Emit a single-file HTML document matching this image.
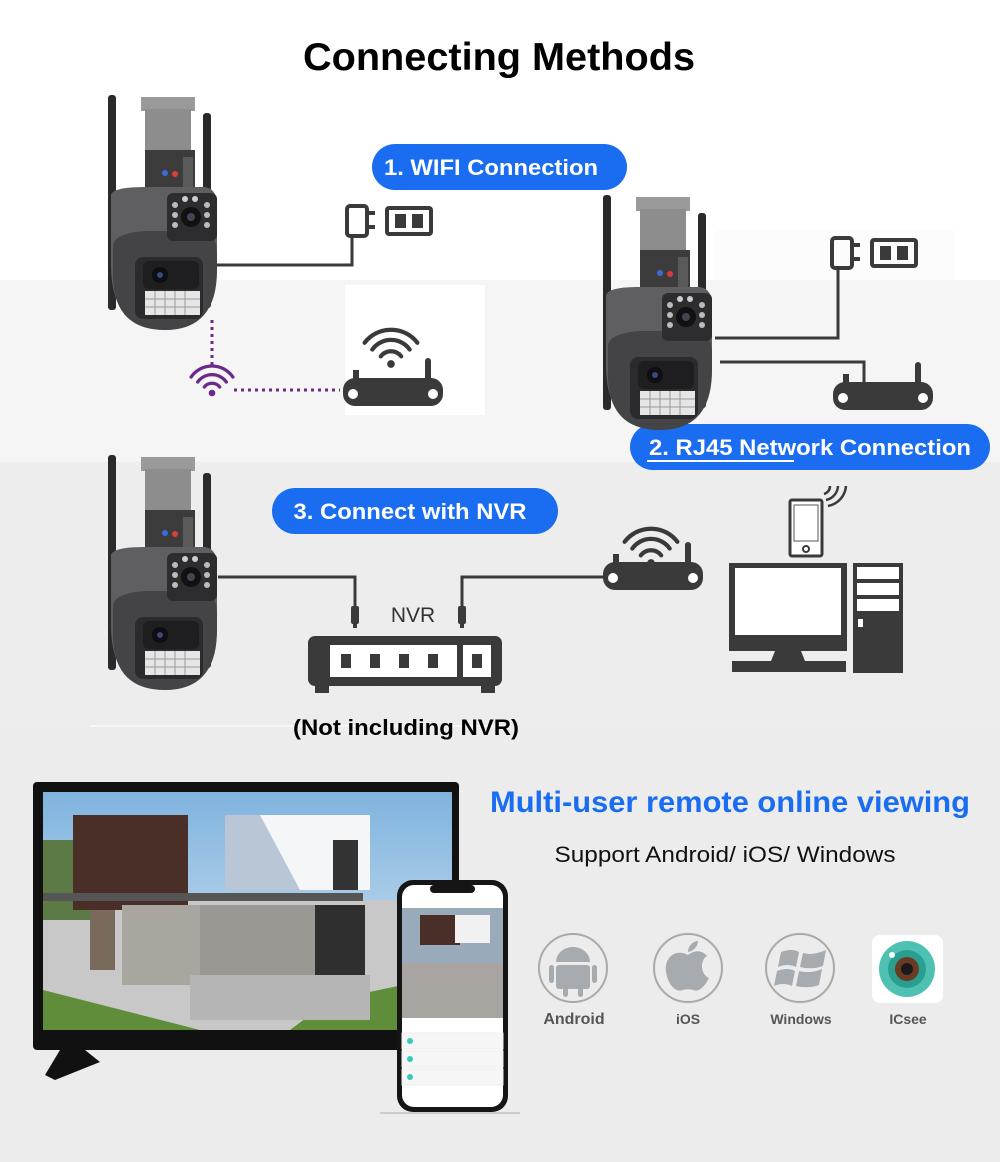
<!DOCTYPE html>
<html><head><meta charset="utf-8"><style>
html,body{margin:0;padding:0;background:#fff}
svg{display:block}
text{font-family:"Liberation Sans",Arial,sans-serif}
</style></head><body>
<svg width="1000" height="1162" viewBox="0 0 1000 1162" xmlns="http://www.w3.org/2000/svg">
<defs>
<linearGradient id="bg2" x1="0" y1="0" x2="0" y2="1"><stop offset="0" stop-color="#ededed"/><stop offset="1" stop-color="#ececec"/></linearGradient>
<linearGradient id="sky" x1="0" y1="0" x2="0" y2="1"><stop offset="0" stop-color="#7fb3de"/><stop offset="1" stop-color="#d9e8f3"/></linearGradient>
<g id="cam">
  <rect x="3" y="0" width="8" height="215" rx="3" fill="#2a2a2a"/>
  <rect x="98" y="18" width="8" height="195" rx="3" fill="#2a2a2a"/>
  <rect x="36" y="2" width="54" height="14" fill="#9a9a9a"/>
  <rect x="40" y="14" width="46" height="46" fill="#8d8d8d"/>
  <rect x="40" y="55" width="50" height="42" fill="#3c3c3c"/>
  <rect x="78" y="62" width="10" height="30" fill="#5a5a5a"/>
  <circle cx="60" cy="78" r="3" fill="#3c6ad8"/><circle cx="70" cy="79" r="3" fill="#d83c3c"/>
  <path d="M6 100 Q8 92 40 92 L100 92 Q112 94 112 110 L112 170 Q112 235 60 235 Q6 235 6 170 Z" fill="#5f5f62"/>
  <path d="M8 150 Q10 138 40 136 L100 136 Q112 140 112 160 L112 175 Q112 235 60 235 Q6 235 8 175 Z" fill="#444447"/>
  <rect x="62" y="98" width="50" height="48" rx="6" fill="#2d2d30"/>
  <circle cx="86" cy="122" r="10" fill="#111"/><circle cx="86" cy="122" r="4" fill="#445"/>
  <circle cx="70" cy="110" r="3" fill="#bbb"/><circle cx="70" cy="120" r="3" fill="#bbb"/><circle cx="70" cy="130" r="3" fill="#bbb"/>
  <circle cx="102" cy="110" r="3" fill="#bbb"/><circle cx="102" cy="120" r="3" fill="#bbb"/><circle cx="102" cy="130" r="3" fill="#bbb"/>
  <circle cx="80" cy="104" r="3" fill="#ccc"/><circle cx="90" cy="104" r="3" fill="#ccc"/>
  <rect x="30" y="162" width="68" height="62" rx="8" fill="#2b2b2e"/>
  <rect x="38" y="166" width="56" height="28" rx="6" fill="#1e1e20"/>
  <circle cx="55" cy="180" r="8" fill="#0d0d12"/><circle cx="55" cy="180" r="3" fill="#3a4a7a"/>
  <rect x="40" y="196" width="55" height="24" fill="#e6e6e6"/>
  <path d="M40 204h55M40 212h55M50 196v24M60 196v24M70 196v24M80 196v24" stroke="#999" stroke-width="1"/>
</g>
<g id="router">
  <rect x="0" y="38" width="100" height="28" rx="12" fill="#3a3a3a"/>
  <rect x="10" y="30" width="6" height="12" fill="#3a3a3a"/>
  <rect x="82" y="18" width="6" height="24" rx="3" fill="#3a3a3a"/>
  <circle cx="10" cy="54" r="5" fill="#fff"/><circle cx="90" cy="54" r="5" fill="#fff"/>
</g>
<g id="wifi">
  <circle cx="0" cy="0" r="4.5" fill="#3a3a3a"/>
  <path d="M-12 -9 A15 15 0 0 1 12 -9" fill="none" stroke="#3a3a3a" stroke-width="5" stroke-linecap="round"/>
  <path d="M-22 -17 A27 27 0 0 1 22 -17" fill="none" stroke="#3a3a3a" stroke-width="5" stroke-linecap="round"/>
  <path d="M-31 -25 A39 39 0 0 1 31 -25" fill="none" stroke="#3a3a3a" stroke-width="5" stroke-linecap="round"/>
</g>
<g id="plug">
  <rect x="0" y="0" width="20" height="30" rx="3" fill="none" stroke="#3a3a3a" stroke-width="4"/>
  <path d="M20 7h8M20 21h8" stroke="#3a3a3a" stroke-width="4"/>
  <rect x="40" y="2" width="44" height="26" rx="2" fill="none" stroke="#3a3a3a" stroke-width="4"/>
  <rect x="48" y="8" width="11" height="14" fill="#3a3a3a"/><rect x="65" y="8" width="11" height="14" fill="#3a3a3a"/>
</g>
<g id="rj"><rect x="-4" y="0" width="8" height="18" rx="2" fill="#3a3a3a"/><rect x="-2" y="16" width="4" height="6" fill="#3a3a3a"/></g>
</defs>

<rect width="1000" height="1162" fill="#fff"/>
<rect x="0" y="280" width="1000" height="182" fill="#f5f5f5"/>
<rect x="345" y="285" width="140" height="130" fill="#fff"/>
<rect x="715" y="230" width="240" height="50" fill="#fcfcfc"/>
<rect x="0" y="462" width="1000" height="700" fill="url(#bg2)"/>
<rect x="90" y="725" width="420" height="2" fill="#f6f6f6"/>

<text x="499" y="70" text-anchor="middle" font-size="39" font-weight="bold" fill="#000" textLength="392" lengthAdjust="spacingAndGlyphs">Connecting Methods</text>

<!-- pills -->
<rect x="372" y="144" width="255" height="46" rx="23" fill="#1a6df0"/>
<text x="491" y="175" text-anchor="middle" font-size="22" font-weight="bold" fill="#fff" textLength="214" lengthAdjust="spacingAndGlyphs">1. WIFI Connection</text>
<rect x="630" y="424" width="360" height="46" rx="23" fill="#1a6df0"/>
<text x="810" y="455" text-anchor="middle" font-size="22" font-weight="bold" fill="#fff" textLength="322" lengthAdjust="spacingAndGlyphs">2. RJ45 Network Connection</text>
<rect x="647" y="460" width="147" height="2" fill="#fff"/>
<rect x="272" y="488" width="286" height="46" rx="23" fill="#1a6df0"/>
<text x="410" y="519" text-anchor="middle" font-size="22" font-weight="bold" fill="#fff" textLength="233" lengthAdjust="spacingAndGlyphs">3. Connect with NVR</text>

<!-- section 1 -->
<use href="#cam" x="105" y="95"/>
<use href="#plug" x="347" y="206"/>
<path d="M217 265H352V236" fill="none" stroke="#3a3a3a" stroke-width="3"/>
<use href="#router" x="343" y="340"/>
<g transform="translate(391 364) scale(0.85)"><use href="#wifi"/></g>
<path d="M212 320V368" stroke="#6a2a8a" stroke-width="3" stroke-dasharray="3 4"/>
<path d="M234 390H340" stroke="#6a2a8a" stroke-width="3" stroke-dasharray="3 4"/>
<g transform="translate(212 393) scale(0.55)">
 <circle cx="0" cy="0" r="6" fill="#6a2a8a"/>
 <path d="M-14 -11 A18 18 0 0 1 14 -11M-26 -20 A32 32 0 0 1 26 -20M-38 -29 A46 46 0 0 1 38 -29" fill="none" stroke="#6a2a8a" stroke-width="6" stroke-linecap="round"/>
</g>

<!-- section 2 -->
<use href="#cam" x="600" y="195"/>
<use href="#plug" x="832" y="238"/>
<path d="M715 338H838V270" fill="none" stroke="#3a3a3a" stroke-width="3"/>
<path d="M720 362H864V396" fill="none" stroke="#3a3a3a" stroke-width="3"/>
<use href="#rj" x="864" y="388"/>
<use href="#router" x="833" y="344"/>

<!-- section 3 -->
<use href="#cam" x="105" y="455"/>
<path d="M218 577H355V612" fill="none" stroke="#3a3a3a" stroke-width="3"/>
<path d="M462 612V577H605" fill="none" stroke="#3a3a3a" stroke-width="3"/>
<use href="#rj" x="355" y="606"/>
<use href="#rj" x="462" y="606"/>
<text x="413" y="622" text-anchor="middle" font-size="21" fill="#333">NVR</text>
<rect x="308" y="636" width="194" height="50" rx="7" fill="#3a3a3a"/>
<rect x="315" y="684" width="14" height="9" fill="#3a3a3a"/><rect x="481" y="684" width="14" height="9" fill="#3a3a3a"/>
<rect x="330" y="645" width="127" height="32" fill="#fff"/>
<rect x="463" y="645" width="28" height="32" fill="#fff"/>
<rect x="341" y="654" width="10" height="14" fill="#3a3a3a"/><rect x="370" y="654" width="10" height="14" fill="#3a3a3a"/>
<rect x="399" y="654" width="10" height="14" fill="#3a3a3a"/><rect x="428" y="654" width="10" height="14" fill="#3a3a3a"/>
<rect x="472" y="654" width="10" height="14" fill="#3a3a3a"/>
<use href="#router" x="603" y="524"/>
<g transform="translate(651 563) scale(0.85)"><use href="#wifi"/></g>
<!-- phone icon & pc -->
<rect x="790" y="500" width="32" height="56" rx="2" fill="#fff" stroke="#3a3a3a" stroke-width="3"/>
<rect x="794" y="505" width="24" height="36" fill="#fff" stroke="#555" stroke-width="1"/>
<circle cx="806" cy="549" r="3" fill="none" stroke="#3a3a3a" stroke-width="2"/>
<path d="M824 494 A8 8 0 0 0 830 486M826 500 A15 15 0 0 0 838 486M828 506 A22 22 0 0 0 846 486" fill="none" stroke="#3a3a3a" stroke-width="2.5"/>
<rect x="729" y="563" width="118" height="88" fill="#3a3a3a"/>
<rect x="735" y="568" width="106" height="67" fill="#fff"/>
<path d="M775 651h26l4 10h-34z" fill="#3a3a3a"/>
<rect x="732" y="661" width="114" height="11" fill="#3a3a3a"/>
<rect x="853" y="563" width="50" height="110" fill="#3a3a3a"/>
<rect x="857" y="567" width="42" height="12" fill="#fff"/><rect x="857" y="583" width="42" height="12" fill="#fff"/><rect x="857" y="599" width="42" height="12" fill="#fff"/>
<rect x="858" y="619" width="5" height="8" fill="#fff"/>

<text x="406" y="735" text-anchor="middle" font-size="22" font-weight="bold" fill="#000" textLength="226" lengthAdjust="spacingAndGlyphs">(Not including NVR)</text>

<!-- TV -->
<rect x="33" y="782" width="426" height="268" rx="4" fill="#111"/>
<rect x="43" y="792" width="409" height="238" fill="url(#sky)"/>
<rect x="43" y="900" width="409" height="130" fill="#c8c8c8"/>
<path d="M43 990 L200 1030 L43 1030Z" fill="#5f8d3a"/>
<path d="M330 1000 L452 975 L452 1030 L290 1030Z" fill="#5f8d3a"/>
<rect x="43" y="840" width="60" height="80" fill="#5c7a45"/>
<rect x="73" y="815" width="115" height="95" fill="#4a2e28"/>
<rect x="225" y="815" width="145" height="75" fill="#f4f6f8"/>
<path d="M225 815 L260 815 L300 890 L225 890Z" fill="#b9c6d6"/>
<rect x="333" y="840" width="25" height="50" fill="#333"/>
<rect x="122" y="905" width="80" height="80" fill="#a9a6a0"/>
<rect x="200" y="905" width="160" height="70" fill="#9b9893"/>
<rect x="90" y="910" width="25" height="60" fill="#7a6a5c"/>
<rect x="315" y="905" width="50" height="110" fill="#2f2f2f"/>
<rect x="43" y="893" width="320" height="8" fill="#555"/>
<rect x="190" y="975" width="180" height="45" fill="#b5b5b5"/>
<path d="M60 1050 L85 1050 L100 1062 L55 1080 L45 1075Z" fill="#111"/>
<!-- phone -->
<rect x="397" y="880" width="111" height="232" rx="16" fill="#151515"/>
<rect x="402" y="885" width="101" height="222" rx="12" fill="#fff"/>
<rect x="430" y="885" width="45" height="8" rx="4" fill="#151515"/>
<rect x="402" y="908" width="101" height="55" fill="#9ab"/>
<rect x="420" y="915" width="40" height="30" fill="#4a2e28"/>
<rect x="455" y="915" width="35" height="28" fill="#f1f1f1"/>
<rect x="402" y="963" width="101" height="55" fill="#a8a49f"/>
<rect x="402" y="1033" width="101" height="16" fill="#f6f6f6" stroke="#eee"/>
<rect x="402" y="1051" width="101" height="16" fill="#f6f6f6" stroke="#eee"/>
<rect x="402" y="1069" width="101" height="16" fill="#f6f6f6" stroke="#eee"/>
<circle cx="410" cy="1041" r="3" fill="#3cb"/><circle cx="410" cy="1059" r="3" fill="#3cb"/><circle cx="410" cy="1077" r="3" fill="#3cb"/>
<rect x="380" y="1112" width="140" height="2" fill="#ccc"/>

<!-- right texts -->
<text x="730" y="812" text-anchor="middle" font-size="30" font-weight="bold" fill="#1a6df0" textLength="480" lengthAdjust="spacingAndGlyphs">Multi-user remote online viewing</text>
<text x="725" y="862" text-anchor="middle" font-size="22" fill="#111" textLength="341" lengthAdjust="spacingAndGlyphs">Support Android/ iOS/ Windows</text>

<!-- OS icons -->
<circle cx="573" cy="968" r="34" fill="none" stroke="#a9a9a9" stroke-width="2"/>
<path d="M556 962 A17 15 0 0 1 590 962Z" fill="#a6abb0"/>
<rect x="556" y="965" width="34" height="24" rx="3" fill="#a6abb0"/>
<rect x="549" y="965" width="5" height="18" rx="2.5" fill="#a6abb0"/><rect x="592" y="965" width="5" height="18" rx="2.5" fill="#a6abb0"/>
<rect x="563" y="987" width="5" height="10" rx="2.5" fill="#a6abb0"/><rect x="578" y="987" width="5" height="10" rx="2.5" fill="#a6abb0"/>
<circle cx="688" cy="968" r="34" fill="none" stroke="#a9a9a9" stroke-width="2"/>
<path d="M688 955 C675 948 664 958 666 972 C668 985 676 993 683 990 C686 989 690 989 693 990 C700 993 706 984 709 978 C700 974 700 960 707 956 C700 948 692 952 688 955Z" fill="#a6abb0"/>
<path d="M688 952 C688 945 694 941 698 941 C698 947 693 951 688 952Z" fill="#a6abb0"/>
<circle cx="800" cy="968" r="34" fill="none" stroke="#a9a9a9" stroke-width="2"/>
<path d="M781 952 Q792 948 799 952 L796 967 Q788 963 778 967Z M803 953 Q812 956 826 950 L823 966 Q812 970 800 967Z M777 971 Q787 967 795 971 L792 986 Q783 982 774 986Z M799 971 Q810 974 822 969 L819 985 Q808 989 796 986Z" fill="#a6abb0"/>
<rect x="872" y="935" width="71" height="68" rx="8" fill="#fff"/>
<circle cx="907" cy="969" r="28" fill="#4fc1b3"/>
<circle cx="907" cy="969" r="19" fill="#2a9e90"/>
<circle cx="907" cy="969" r="12" fill="#6a3b22"/>
<circle cx="907" cy="969" r="6" fill="#1a1a1a"/>
<circle cx="892" cy="955" r="3" fill="#fff"/>
<g font-weight="bold" fill="#555" text-anchor="middle">
<text x="574" y="1024" font-size="16">Android</text>
<text x="688" y="1024" font-size="14">iOS</text>
<text x="801" y="1024" font-size="14">Windows</text>
<text x="908" y="1024" font-size="14">ICsee</text>
</g>
</svg>
</body></html>
